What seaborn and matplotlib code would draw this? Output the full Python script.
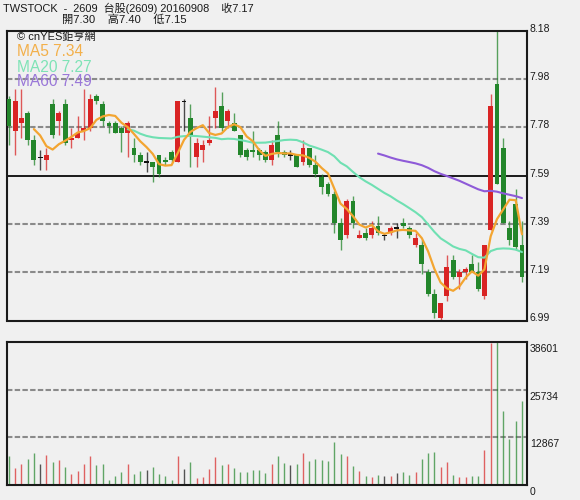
import numpy as np
import pandas as pd
import matplotlib
matplotlib.use('Agg')
import matplotlib.pyplot as plt
import matplotlib.transforms as mtransforms
import seaborn as sns

# 2609 daily candles (oldest -> newest)
opens = [7.90, 7.77, 7.80, 7.84, 7.73, 7.66, 7.65, 7.88, 7.81, 7.88,
         7.73, 7.74, 7.77, 7.78, 7.91, 7.88, 7.80, 7.80, 7.78, 7.76,
         7.70, 7.67, 7.64, 7.64, 7.67, 7.65, 7.68, 7.64, 7.89, 7.82,
         7.66, 7.69, 7.72, 7.82, 7.87, 7.81, 7.80, 7.75, 7.69, 7.69,
         7.69, 7.68, 7.65, 7.75, 7.68, 7.67, 7.67, 7.64, 7.70, 7.63,
         7.58, 7.55, 7.51, 7.39, 7.34, 7.48, 7.33, 7.35, 7.34, 7.38,
         7.34, 7.35, 7.37, 7.39, 7.37, 7.30, 7.30, 7.19, 7.10, 7.00,
         7.09, 7.24, 7.17, 7.19, 7.22, 7.19, 7.09, 7.36, 7.96, 7.70,
         7.37, 7.47, 7.30]
highs = [7.91, 7.94, 7.94, 7.85, 7.75, 7.69, 7.70, 7.90, 7.85, 7.90,
         7.78, 7.83, 7.94, 7.92, 7.92, 7.89, 7.81, 7.81, 7.79, 7.81,
         7.74, 7.68, 7.68, 7.64, 7.67, 7.66, 7.69, 7.89, 7.90, 7.88,
         7.74, 7.73, 7.83, 7.95, 7.93, 7.86, 7.84, 7.75, 7.70, 7.77,
         7.70, 7.69, 7.73, 7.81, 7.69, 7.69, 7.67, 7.73, 7.70, 7.67,
         7.59, 7.56, 7.52, 7.41, 7.49, 7.50, 7.36, 7.37, 7.40, 7.42,
         7.35, 7.38, 7.39, 7.41, 7.38, 7.35, 7.32, 7.20, 7.12, 7.06,
         7.26, 7.26, 7.20, 7.21, 7.26, 7.23, 7.30, 7.92, 8.18, 7.74,
         7.40, 7.53, 7.40]
lows = [7.71, 7.67, 7.74, 7.71, 7.63, 7.61, 7.61, 7.74, 7.75, 7.71,
        7.70, 7.74, 7.73, 7.77, 7.88, 7.79, 7.76, 7.76, 7.68, 7.66,
        7.64, 7.63, 7.60, 7.56, 7.58, 7.63, 7.64, 7.64, 7.77, 7.62,
        7.62, 7.64, 7.71, 7.78, 7.77, 7.78, 7.77, 7.66, 7.65, 7.66,
        7.65, 7.64, 7.63, 7.66, 7.66, 7.65, 7.62, 7.63, 7.62, 7.58,
        7.51, 7.50, 7.35, 7.28, 7.33, 7.37, 7.33, 7.32, 7.33, 7.34,
        7.32, 7.34, 7.33, 7.37, 7.33, 7.29, 7.18, 7.09, 7.00, 6.99,
        7.07, 7.16, 7.12, 7.16, 7.19, 7.11, 7.08, 7.36, 7.55, 7.39,
        7.30, 7.28, 7.15]
closes = [7.79, 7.89, 7.82, 7.73, 7.65, 7.66, 7.67, 7.75, 7.84, 7.72,
          7.74, 7.76, 7.78, 7.90, 7.89, 7.81, 7.79, 7.76, 7.76, 7.80,
          7.67, 7.64, 7.64, 7.62, 7.59, 7.64, 7.65, 7.89, 7.89, 7.75,
          7.72, 7.71, 7.73, 7.85, 7.78, 7.85, 7.77, 7.67, 7.66, 7.68,
          7.67, 7.65, 7.71, 7.68, 7.67, 7.67, 7.62, 7.70, 7.63, 7.59,
          7.54, 7.51, 7.39, 7.32, 7.48, 7.39, 7.34, 7.33, 7.37, 7.35,
          7.34, 7.37, 7.37, 7.38, 7.34, 7.33, 7.22, 7.10, 7.02, 7.06,
          7.21, 7.17, 7.19, 7.20, 7.19, 7.12, 7.30, 7.87, 7.55, 7.39,
          7.32, 7.29, 7.17]
volumes = [7856, 4696, 5689, 6953, 8579, 5689, 8037, 6321, 6863, 4967,
           2980, 3702, 5689, 7946, 5328, 5599, 1355, 2528, 3522, 5689,
           3070, 3793, 4064, 4876, 2980, 2438, 1355, 7946, 4244, 6231,
           1806, 2077, 4244, 7676, 5508, 5599, 4696, 3612, 3612, 4064,
           4064, 3161, 5779, 7856, 6050, 5508, 5599, 8759, 6502, 6953,
           6773, 6411, 11739, 8398, 7856, 5147, 3883, 2438, 2258, 2709,
           2438, 2528, 3341, 3431, 2709, 3522, 6953, 8579, 8849, 4967,
           6321, 2709, 2258, 2077, 2528, 2438, 9482, 38211, 38601, 19866,
           12371, 17338, 22575]

price_labels = ['6.99', '7.19', '7.39', '7.59', '7.78', '7.98', '8.18']
vol_labels = ['0', '12867', '25734', '38601']

RED = '#d92424'
GREEN = '#23862b'
BG = '#f0f0f0'

sns.set_theme(style='white', rc={'axes.facecolor': BG, 'figure.facecolor': BG})
plt.rcParams['font.family'] = ['Liberation Sans', 'Noto Sans CJK TC', 'DejaVu Sans']

df = pd.DataFrame({'day': np.arange(len(closes)), 'open': opens, 'high': highs,
                   'low': lows, 'close': closes, 'volume': volumes})
df['ma5'] = df['close'].rolling(5).mean()
df['ma20'] = df['close'].rolling(20).mean()
df['ma60'] = df['close'].rolling(60).mean()
df['color'] = np.where(df['close'] > df['open'], RED,
                       np.where(df['close'] < df['open'], GREEN, '#111111'))

fig = plt.figure(figsize=(5.8, 5.0), dpi=100)
ax = fig.add_axes([0.012, 0.359, 0.8966, 0.5796])
axv = fig.add_axes([0.012, 0.03, 0.8966, 0.286])

ymin, ymax = 6.99, 8.18
ypos = np.linspace(ymin, ymax, len(price_labels))
dash = (0, (2.6, 1.1))
for y in ypos[1:-1]:
    if abs(y - ypos[3]) < 1e-9:
        ax.axhline(y, color='#1a1a1a', lw=1.4, zorder=1)
    else:
        ax.axhline(y, color='#8a8a8a', lw=1.5, ls=dash, zorder=1)

# candles
ax.vlines(df['day'], df['low'], df['high'], colors=df['color'], lw=1.0, alpha=0.75, zorder=2)
body_h = np.maximum((df['close'] - df['open']).abs(), 0.006)
ax.bar(df['day'], body_h, bottom=np.minimum(df['open'], df['close']) - 0.003 * (body_h == 0.006),
       width=0.78, color=df['color'], linewidth=0, zorder=3)

sns.lineplot(data=df, x='day', y='ma60', ax=ax, color='#8e5ad8', lw=1.5, legend=False, zorder=4)
sns.lineplot(data=df, x='day', y='ma20', ax=ax, color='#6fe0b2', lw=1.5, legend=False, zorder=4)
sns.lineplot(data=df, x='day', y='ma5', ax=ax, color='#f3a531', lw=1.6, legend=False, zorder=5)

ax.set_xlim(-0.3, 82.8)
ax.set_ylim(ymin, ymax)
ax.set_yticks(ypos)
ax.set_yticklabels(price_labels)

# volume
vpos = np.linspace(0, 38601, len(vol_labels))
for v in vpos[1:-1]:
    axv.axhline(v, color='#8a8a8a', lw=1.5, ls=dash, zorder=1)
axv.vlines(df['day'], 0, df['volume'], colors=df['color'], lw=1.0, alpha=0.7, zorder=2)
axv.set_xlim(-0.3, 82.8)
axv.set_ylim(0, 38601)
axv.set_yticks(vpos)
axv.set_yticklabels(vol_labels)

for a, dy in ((ax, 0.03), (axv, -0.06)):
    a.set_xlabel('')
    a.set_ylabel('')
    a.set_xticks([])
    a.yaxis.tick_right()
    a.tick_params(axis='y', length=0, pad=2, labelsize=7.5, labelcolor='#1a1a1a')
    for s in a.spines.values():
        s.set_color('#1a1a1a')
        s.set_linewidth(1.5)
    offset = mtransforms.ScaledTranslation(0, dy, fig.dpi_scale_trans)
    for lbl in a.get_yticklabels():
        lbl.set_transform(lbl.get_transform() + offset)

# header text
W, H = 580, 500
def ftext(x, y, s, **kw):
    fig.text(x / W, 1 - y / H, s, va='center', ha='left', **kw)

ftext(3, 8, 'TWSTOCK  -  2609  台股(2609) 20160908    收7.17', fontsize=7.9, color='#1a1a1a')
ftext(62, 20, '開7.30    高7.40    低7.15', fontsize=8.1, color='#1a1a1a')
ftext(17, 37, '© cnYES鉅亨網', fontsize=8, color='#1a1a1a')
ftext(17, 52, 'MA5 7.34', fontsize=11.2, color='#f3b04a')
ftext(17, 67, 'MA20 7.27', fontsize=11.2, color='#7ee3b6')
ftext(17, 82, 'MA60 7.49', fontsize=11.2, color='#9a78d8')

fig.savefig('out.png', dpi=100)
